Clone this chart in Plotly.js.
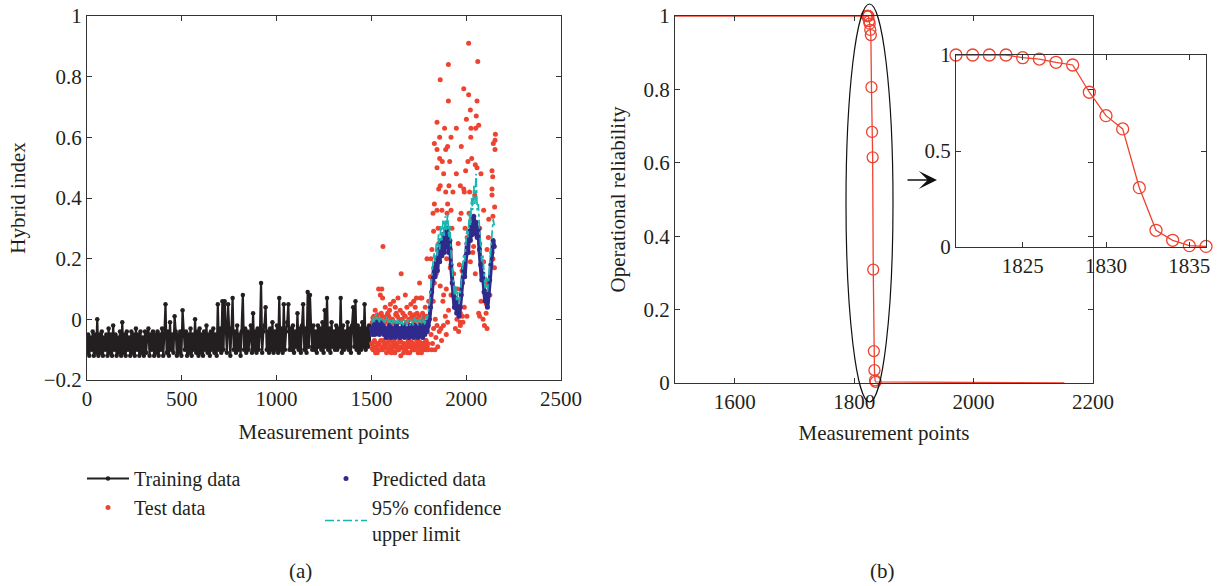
<!DOCTYPE html>
<html>
<head>
<meta charset="utf-8">
<script src="https://cdn.plot.ly/plotly-3.0.1.min.js"></script>
<style>
  html, body { margin: 0; padding: 0; background: #fff; }
  #chart { width: 1218px; height: 586px; }
</style>
</head>
<body>
<div id="chart"></div>
<script>
// ---------------- Panel (a) data ----------------
// Training data: measurement points 0..1494, every 6th point
const trainStart = 0;
const trainStep = 6;
const trainValues = [
  -0.11,-0.05,-0.12,-0.06,-0.10,-0.04,-0.12,-0.05,-0.11,0.00,
  -0.12,-0.05,-0.11,-0.04,-0.12,-0.06,-0.10,-0.05,-0.12,-0.03,
  -0.11,-0.05,-0.12,-0.02,-0.10,-0.05,-0.12,-0.06,-0.11,-0.04,
  -0.12,-0.01,-0.11,-0.05,-0.12,-0.04,-0.10,-0.06,-0.12,-0.04,
  -0.11,-0.05,-0.12,-0.03,-0.10,-0.05,-0.12,-0.04,-0.11,-0.06,
  -0.12,-0.04,-0.11,-0.05,-0.03,-0.12,-0.05,-0.10,-0.04,-0.12,
  -0.05,-0.11,-0.04,-0.12,-0.05,-0.10,-0.03,-0.12,-0.05,0.05,
  -0.11,-0.04,-0.12,-0.01,-0.10,-0.05,-0.11,0.01,-0.04,-0.12,
  -0.05,-0.11,-0.04,-0.12,0.03,-0.05,-0.10,-0.04,-0.12,-0.05,
  -0.11,-0.03,-0.12,-0.05,-0.10,0.00,-0.11,-0.04,-0.12,-0.03,
  -0.11,-0.05,-0.12,-0.04,-0.10,-0.02,-0.11,-0.05,-0.12,-0.04,
  -0.10,-0.03,-0.11,-0.05,-0.12,0.05,-0.10,-0.03,-0.11,0.06,
  -0.10,0.06,-0.04,-0.11,0.05,-0.05,-0.12,-0.03,0.07,-0.10,
  -0.04,-0.11,-0.02,-0.10,-0.05,-0.12,-0.04,0.08,-0.10,-0.03,
  -0.11,-0.04,-0.10,-0.05,-0.02,-0.11,0.02,-0.10,-0.04,-0.11,
  -0.03,-0.10,-0.05,0.12,-0.11,-0.04,-0.02,0.04,-0.10,-0.04,
  -0.11,-0.03,-0.10,-0.01,-0.11,-0.04,-0.10,-0.02,-0.11,0.07,
  -0.10,-0.03,-0.11,0.05,-0.10,-0.04,-0.01,0.05,-0.10,-0.03,
  -0.10,-0.02,-0.11,-0.04,-0.09,0.02,-0.10,-0.03,-0.11,-0.02,
  0.05,-0.10,-0.03,-0.11,0.09,-0.09,0.08,-0.03,-0.10,-0.02,
  -0.10,-0.04,-0.11,-0.02,-0.09,-0.03,-0.10,-0.01,-0.11,0.03,
  -0.09,0.07,-0.10,-0.03,-0.11,-0.01,-0.09,-0.04,-0.10,-0.02,
  -0.10,-0.03,-0.09,0.07,-0.11,-0.02,-0.10,-0.04,-0.09,-0.01,
  -0.10,-0.03,-0.11,-0.02,0.04,-0.09,0.06,-0.10,-0.02,-0.11,
  -0.03,-0.10,-0.01,-0.09,0.05,-0.10,-0.03,-0.09,-0.02,-0.08
];

// Test data (scattered points)
const testX = [
  1502,1505,1509,1513,1516,1520,1524,1527,1531,1535,
  1538,1541,1545,1547,1550,1555,1556,1559,1561,1563,
  1567,1571,1573,1576,1580,1584,1588,1592,1596,1599,
  1603,1607,1611,1615,1617,1620,1624,1626,1629,1633,
  1637,1641,1645,1649,1652,1655,1657,1660,1664,1668,
  1672,1676,1679,1682,1687,1690,1694,1698,1702,1706,
  1710,1714,1718,1723,1726,1730,1731,1735,1739,1743,
  1747,1751,1754,1756,1758,1762,1766,1768,1772,1776,
  1780,1784,1787,1791,1793,1795,1799,1802,1511,1533,
  1518,1540,1558,1575,1594,1613,1635,1650,1670,1688,
  1700,1716,1728,1745,1760,1778,1790,1797,1529,1552,
  1565,1586,1609,1631,1646,1666,1685,1704,1721,1741,
  1770,1782,1522,1605,1692,1764,1737,1600,1640,1708,
  1504,1514,1526,1537,1549,1560,1569,1582,1591,1602,
  1612,1622,1634,1644,1656,1667,1677,1689,1699,1711,
  1722,1733,1744,1755,1767,1777,1788,1798,1508,1532,
  1557,1579,1604,1628,1653,1678,1703,1727,1752,1777,
  1811,1814,1819,1825,1828,1832,1832,1832,1837,1846,
  1846,1846,1846,1846,1855,1855,1860,1860,1863,1863,
  1863,1867,1872,1872,1874,1877,1881,1881,1886,1890,
  1892,1892,1895,1899,1902,1902,1902,1906,1906,1907,
  1909,1913,1916,1916,1920,1920,1920,1930,1937,1939,
  1943,1948,1948,1951,1960,1962,1964,1965,1969,1969,
  1969,1969,1973,1974,1978,1980,1983,1987,1987,1990,
  1990,1997,2001,2004,2009,2013,2013,2013,2018,2022,
  2022,2024,2025,2029,2039,2045,2048,2048,2050,2053,
  2057,2057,2061,2066,2066,2071,2071,2071,2078,2078,
  2089,2092,2092,2096,2105,2110,2110,2117,2119,2136,
  2136,2136,2140,2141,2141,2143,2149,2150,2152,2152,
  2154,2100,2107,2115,2125,2005,2030,2035,1822,1815,
  1828,1840,1850,1858,1870,1880,1895,1818,1835,1826,
  1842,1852,1884,1897,1925,1934,1955,1958,1994,2015
];
const testY = [
  -0.08,-0.01,-0.10,0.01,-0.07,0.03,-0.09,-0.02,-0.11,0.00,
  0.10,-0.08,-0.01,0.08,-0.10,0.10,0.01,0.07,0.24,-0.07,
  -0.02,-0.09,0.04,0.00,-0.11,-0.01,-0.08,0.01,0.03,-0.10,
  -0.02,-0.07,0.00,-0.09,0.06,-0.01,-0.11,0.04,-0.02,-0.08,
  0.01,-0.10,-0.01,-0.07,0.03,-0.12,0.15,0.00,-0.09,-0.02,
  -0.08,0.01,0.08,-0.10,0.04,-0.01,-0.07,0.00,-0.11,-0.02,
  -0.09,0.01,-0.08,0.06,-0.01,-0.10,0.04,0.00,-0.07,-0.02,
  -0.11,0.01,0.12,-0.09,0.07,-0.01,0.07,-0.08,0.00,-0.10,
  -0.02,0.04,-0.07,0.01,0.20,-0.09,-0.01,0.06,-0.09,-0.08,
  -0.10,-0.10,-0.09,-0.08,-0.10,-0.08,-0.10,-0.09,-0.11,-0.09,
  -0.08,-0.10,-0.09,-0.08,-0.10,-0.09,-0.10,-0.08,-0.01,0.02,
  -0.01,0.02,-0.01,0.02,0.00,0.02,-0.01,0.02,0.00,0.02,
  0.02,-0.01,-0.11,-0.11,-0.11,-0.11,0.07,0.05,0.07,0.05,
  -0.095,-0.075,-0.105,-0.085,-0.07,-0.10,-0.08,-0.095,-0.07,-0.09,
  -0.105,-0.075,-0.09,-0.10,-0.075,-0.095,-0.105,-0.08,-0.09,-0.075,
  -0.10,-0.085,-0.095,-0.075,-0.09,-0.08,-0.07,-0.10,0.005,0.015,
  -0.005,0.01,0.00,0.015,-0.005,0.01,0.00,0.015,-0.005,0.01,
  0.14,0.20,0.23,0.35,0.29,0.38,0.58,0.12,0.00,0.65,
  0.56,0.50,0.36,-0.02,0.43,0.25,0.60,0.53,0.79,0.44,
  0.11,-0.03,0.36,0.22,0.52,0.06,0.48,0.08,0.63,0.01,
  0.56,0.42,0.10,0.35,0.57,0.38,-0.01,0.84,0.72,0.03,
  0.44,0.52,0.23,0.17,0.60,0.36,0.08,0.42,0.07,0.04,
  -0.03,0.63,0.48,0.00,-0.04,0.06,0.18,0.33,0.44,0.02,
  -0.01,-0.02,0.35,0.57,0.16,0.01,-0.01,0.76,0.43,0.42,
  0.04,0.49,0.66,0.01,0.52,0.91,0.74,0.22,0.42,0.69,
  0.19,0.60,0.63,0.53,0.24,0.41,0.51,0.15,0.63,0.67,
  0.72,0.50,0.85,0.64,0.02,0.30,0.25,0.01,0.48,0.06,
  0.00,0.36,0.19,-0.02,0.02,0.23,-0.03,0.27,0.33,0.49,
  0.43,0.41,0.47,0.34,0.20,0.58,0.17,0.37,0.59,0.56,
  0.61,0.09,0.05,0.12,0.08,0.27,0.33,0.22,-0.08,-0.05,
  -0.03,-0.06,-0.09,-0.04,-0.07,-0.02,-0.05,-0.10,-0.10,0.06,
  0.15,0.30,0.28,0.20,0.30,0.15,0.10,0.25,0.30,0.35
];

// Predicted data and 95% confidence upper limit: points 1500..2148, every 6th point
const predStart = 1500;
const predStep = 6;
const predValues = [
  -0.03,-0.05,-0.02,-0.05,-0.01,-0.04,-0.02,-0.05,-0.01,-0.04,
  -0.02,-0.05,-0.03,-0.06,-0.03,-0.05,-0.02,-0.06,-0.03,-0.05,
  -0.03,-0.06,-0.02,-0.05,-0.03,-0.06,-0.03,-0.05,-0.02,-0.06,
  -0.03,-0.05,-0.03,-0.06,-0.02,-0.05,-0.03,-0.06,-0.02,-0.05,
  -0.03,-0.06,-0.02,-0.05,-0.03,-0.06,-0.02,-0.05,-0.01,-0.04,
  -0.02,0.00,0.04,0.09,0.13,0.17,0.14,0.20,0.16,0.23,
  0.19,0.26,0.21,0.28,0.22,0.29,0.24,0.30,0.22,0.26,
  0.18,0.12,0.08,0.04,0.07,0.02,0.05,0.01,0.04,0.08,
  0.12,0.17,0.14,0.21,0.25,0.22,0.29,0.26,0.31,0.28,
  0.34,0.29,0.32,0.27,0.30,0.23,0.18,0.13,0.15,0.09,
  0.06,0.09,0.04,0.08,0.13,0.18,0.22,0.26,0.24
];
const upperValues = [
  0.00,-0.01,0.01,-0.01,0.02,0.00,0.01,-0.01,0.01,0.00,
  -0.01,0.00,-0.01,0.01,-0.01,0.00,-0.01,0.00,-0.02,0.00,
  -0.01,0.00,-0.02,0.00,-0.01,-0.02,0.00,-0.01,-0.02,0.00,
  -0.01,-0.02,0.00,-0.01,-0.02,0.00,-0.01,-0.02,0.01,-0.01,
  0.00,-0.02,0.00,-0.01,0.01,-0.01,0.00,-0.02,0.01,0.00,
  0.02,0.05,0.09,0.14,0.18,0.22,0.19,0.25,0.21,0.28,
  0.23,0.31,0.26,0.33,0.27,0.34,0.29,0.35,0.27,0.31,
  0.22,0.17,0.12,0.08,0.11,0.06,0.09,0.05,0.08,0.12,
  0.16,0.21,0.19,0.26,0.30,0.27,0.35,0.31,0.40,0.36,
  0.44,0.38,0.48,0.36,0.38,0.30,0.24,0.19,0.21,0.14,
  0.10,0.14,0.09,0.13,0.18,0.24,0.28,0.33,0.31
];

// ---------------- Panel (b) data ----------------
const relStartX = 1500, relStartY = 1;
const relEndX = 2152, relEndY = 0;
const dropX = [1821,1822,1823,1824,1825,1826,1827,1828,1829,1830,1831,1832,1833,1834,1835,1836];
const dropY = [1.0,1.0,1.0,1.0,0.986,0.979,0.962,0.948,0.806,0.684,0.615,0.309,0.087,0.035,0.007,0.003];

// ---------------- Build traces ----------------
const trainX = trainValues.map((_, i) => trainStart + i * trainStep);
const predX = predValues.map((_, i) => predStart + i * predStep);
const relX = [relStartX].concat(dropX, [relEndX]);
const relY = [relStartY].concat(dropY, [relEndY]);

const RED = '#ee4330';
const BLUE = '#2f2a8c';
const TEAL = '#1ab5b0';
const INK = '#231f20';
const FONT = '"Liberation Serif", "Times New Roman", serif';
const FS = 21;

const traces = [
  { x: trainX, y: trainValues, type: 'scatter', mode: 'lines+markers', name: 'Training data',
    line: { color: INK, width: 2.2 }, marker: { color: INK, size: 4.5 },
    xaxis: 'x', yaxis: 'y', legend: 'legend' },
  { x: testX, y: testY, type: 'scatter', mode: 'markers', name: 'Test data',
    marker: { color: RED, size: 5 }, xaxis: 'x', yaxis: 'y', legend: 'legend' },
  { x: predX, y: predValues, type: 'scatter', mode: 'lines', showlegend: false, hoverinfo: 'skip',
    line: { color: BLUE, width: 4 }, xaxis: 'x', yaxis: 'y' },
  { x: predX, y: predValues, type: 'scatter', mode: 'markers', name: 'Predicted data',
    marker: { color: BLUE, size: 5 }, xaxis: 'x', yaxis: 'y', legend: 'legend2' },
  { x: predX, y: upperValues, type: 'scatter', mode: 'lines', name: '95% confidence<br>upper limit',
    line: { color: TEAL, width: 1.7, dash: 'dashdot' }, xaxis: 'x', yaxis: 'y', legend: 'legend2' },
  // panel (b)
  { x: relX, y: relY, type: 'scatter', mode: 'lines', showlegend: false,
    line: { color: RED, width: 1.3 }, xaxis: 'x2', yaxis: 'y2' },
  { x: dropX, y: dropY, type: 'scatter', mode: 'markers', showlegend: false, cliponaxis: false,
    marker: { symbol: 'circle-open', color: RED, size: 11, line: { width: 1.3, color: RED } },
    xaxis: 'x2', yaxis: 'y2' },
  // inset
  { x: dropX, y: dropY, type: 'scatter', mode: 'lines+markers', showlegend: false, cliponaxis: false,
    line: { color: RED, width: 1.3 },
    marker: { symbol: 'circle-open', color: RED, size: 12, line: { width: 1.3, color: RED } },
    xaxis: 'x3', yaxis: 'y3' }
];

const W = 1218, H = 586;
const px = v => v / W;
const py = v => 1 - v / H;

const axisBase = {
  showline: true, linecolor: '#333', linewidth: 1, mirror: 'ticks',
  ticks: 'inside', ticklen: 5, tickwidth: 1, tickcolor: '#333',
  showgrid: false, zeroline: false,
  tickfont: { family: FONT, size: FS, color: INK },
  fixedrange: true
};
const titleFont = { family: FONT, size: FS, color: INK };
const legendFont = { family: FONT, size: 20, color: INK };

const layout = {
  width: W, height: H,
  margin: { l: 0, r: 0, t: 0, b: 0 },
  paper_bgcolor: '#fff', plot_bgcolor: 'rgba(0,0,0,0)',
  font: { family: FONT, size: FS, color: INK },
  showlegend: true,
  xaxis: Object.assign({}, axisBase, {
    domain: [px(87), px(561)], range: [0, 2500], dtick: 500, tick0: 0, anchor: 'y',
    title: { text: 'Measurement points', font: titleFont, standoff: 14 }
  }),
  yaxis: Object.assign({}, axisBase, {
    domain: [py(380), py(16)], range: [-0.2, 1], dtick: 0.2, tick0: 0, anchor: 'x',
    title: { text: 'Hybrid index', font: titleFont, standoff: 12 }
  }),
  xaxis2: Object.assign({}, axisBase, {
    domain: [px(675), px(1093)], range: [1500, 2200], dtick: 200, tick0: 0, anchor: 'y2',
    title: { text: 'Measurement points', font: titleFont, standoff: 12 }
  }),
  yaxis2: Object.assign({}, axisBase, {
    domain: [py(383), py(16)], range: [0, 1], dtick: 0.2, tick0: 0, anchor: 'x2',
    title: { text: 'Operational reliability', font: titleFont, standoff: 12 }
  }),
  xaxis3: Object.assign({}, axisBase, {
    domain: [px(956), px(1206)], range: [1821, 1836], dtick: 5, tick0: 1825, anchor: 'y3'
  }),
  yaxis3: Object.assign({}, axisBase, {
    domain: [py(247), py(55)], range: [0, 1], dtick: 0.5, tick0: 0, anchor: 'x3'
  }),
  legend: {
    x: px(82), y: py(459), xanchor: 'left', yanchor: 'top', orientation: 'v',
    bgcolor: 'rgba(0,0,0,0)', borderwidth: 0, itemwidth: 42, tracegroupgap: 0,
    font: legendFont
  },
  legend2: {
    x: px(320), y: py(459), xanchor: 'left', yanchor: 'top', orientation: 'v',
    bgcolor: 'rgba(0,0,0,0)', borderwidth: 0, itemwidth: 42, tracegroupgap: 0,
    font: legendFont
  },
  shapes: [
    { type: 'circle', xref: 'paper', yref: 'paper',
      x0: px(846), x1: px(893), y0: py(402), y1: py(4),
      line: { color: '#111', width: 1.2 }, layer: 'above' }
  ],
  annotations: [
    { xref: 'paper', yref: 'paper', x: px(300), y: py(571), xanchor: 'center', yanchor: 'middle',
      text: '(a)', showarrow: false, font: { family: FONT, size: FS, color: INK } },
    { xref: 'paper', yref: 'paper', x: px(883), y: py(571), xanchor: 'center', yanchor: 'middle',
      text: '(b)', showarrow: false, font: { family: FONT, size: FS, color: INK } },
    { xref: 'paper', yref: 'paper', x: px(937), y: py(180), text: '', showarrow: true,
      ax: -31, ay: 0, arrowhead: 3, arrowsize: 1.9, arrowwidth: 1.6, arrowcolor: '#111' }
  ]
};

Plotly.newPlot('chart', traces, layout, { displayModeBar: false, staticPlot: true });
</script>
</body>
</html>
